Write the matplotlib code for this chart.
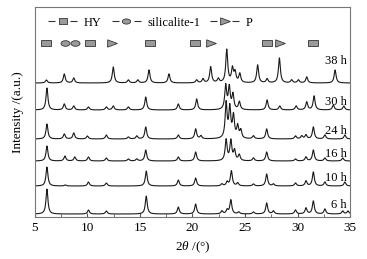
import numpy as np
import matplotlib
matplotlib.use("Agg")
import matplotlib.pyplot as plt
from matplotlib.lines import Line2D
from matplotlib.ticker import MultipleLocator

plt.rcParams['font.family'] = ['Liberation Serif', 'DejaVu Serif']
plt.rcParams['mathtext.fontset'] = 'custom'
plt.rcParams['mathtext.it'] = 'Liberation Serif:italic'
plt.rcParams['mathtext.rm'] = 'Liberation Serif'

# sample labels and vertical offsets (bottom to top)
samples = ["6 h", "10 h", "16 h", "24 h", "30 h", "38 h"]
offsets = [3, 31, 56, 78, 107, 134]
label_dy = [9, 8, 7, 8, 8, 22]

# peak positions (2theta) and heights for each sample
pos_6h = [6.15, 10.1, 11.8, 15.6, 18.65, 20.3, 22.8, 23.3, 23.65, 24.4, 25.8, 27.06, 27.7, 29.8, 30.8, 31.5, 32.6, 34.3, 34.8]
hgt_6h = [25, 4, 3, 18, 7, 10, 3, 4, 14, 2, 2, 11, 3, 4, 6, 13, 5, 3, 3]

pos_10h = [6.15, 7.9, 10.1, 11.8, 15.6, 18.65, 20.3, 22.8, 23.3, 23.7, 24.3, 25.8, 27.06, 27.7, 29.8, 30.8, 31.5, 32.6, 34.5]
hgt_10h = [19, 1, 4, 3, 15, 6, 8, 2, 4, 15, 3, 2, 12, 2, 3, 5, 14, 4, 4]

pos_16h = [6.15, 7.86, 8.8, 10.1, 11.8, 13.9, 14.7, 15.55, 18.65, 20.3, 23.2, 23.65, 24.0, 24.45, 25.8, 27.06, 29.8, 30.8, 31.5, 32.6, 34.3]
hgt_16h = [15, 5, 4, 4, 3, 2, 2, 11, 4, 9, 21, 20, 10, 6, 3, 9, 2, 4, 11, 3, 3]

pos_24h = [6.15, 7.8, 8.7, 10.0, 11.8, 13.9, 14.7, 15.55, 18.65, 20.3, 20.8, 23.2, 23.55, 23.9, 24.3, 24.6, 25.8, 27.06, 29.8, 30.4, 30.8, 31.5, 32.6, 34.5]
hgt_24h = [15, 5, 6, 3, 4, 2, 3, 12, 4, 10, 3, 35, 30, 22, 12, 8, 3, 10, 3, 3, 4, 12, 4, 4]

pos_30h = [6.15, 7.8, 8.7, 10.1, 11.8, 12.46, 13.9, 15.55, 18.65, 20.4, 23.16, 23.5, 23.85, 24.46, 27.1, 28.3, 29.86, 30.87, 31.57, 33.4, 34.4]
hgt_30h = [22, 6, 4, 3, 3, 4, 3, 13, 6, 11, 24, 22, 15, 8, 10, 4, 4, 8, 14, 5, 4]

pos_38h = [6.1, 7.8, 8.7, 12.46, 13.9, 14.8, 15.86, 17.76, 20.4, 21.0, 21.73, 22.46, 23.26, 23.8, 24.05, 24.5, 26.2, 27.1, 28.27, 29.44, 30.08, 30.87, 33.57]
hgt_38h = [3, 9, 5, 16, 3, 3, 13, 9, 3, 4, 16, 4, 33, 14, 10, 9, 18, 4, 25, 3, 3, 6, 13]

peaks = [(pos_6h, hgt_6h), (pos_10h, hgt_10h), (pos_16h, hgt_16h),
         (pos_24h, hgt_24h), (pos_30h, hgt_30h), (pos_38h, hgt_38h)]

# phase markers above the patterns
hy_pos = [6.1, 10.2, 16.0, 20.24, 27.06, 31.5]
sil_pos = [7.9, 8.8]
p_pos = [12.3, 21.8, 28.33]
marker_row = 174

# marker shapes
rect = [(-1, -0.7), (1, -0.7), (1, 0.7), (-1, 0.7), (-1, -0.7)]
t = np.linspace(0, 2 * np.pi, 40)
oval = list(zip(np.cos(t), 0.62 * np.sin(t)))
tri = [(-1, -0.75), (1, 0), (-1, 0.75), (-1, -0.75)]
mfc = "#9a9a9a"
mec = "#333333"

fig = plt.figure(figsize=(3.67, 2.59), dpi=100)
ax = fig.add_axes([0.095, 0.162, 0.859, 0.811])

x = np.linspace(5, 35, 2000)
w = 0.11
for (pp, hh), off, dy, lab in zip(peaks, offsets, label_dy, samples):
    y = np.full_like(x, off, dtype=float)
    for p, h in zip(pp, hh):
        y += h / (1 + ((x - p) / w) ** 2)
    ax.plot(x, y, color="#1a1a1a", lw=0.8)
    ax.text(34.7, off + dy, lab, ha="right", va="center", fontsize=9)

ax.plot(hy_pos, [marker_row] * len(hy_pos), ls="none", marker=rect, ms=6.5, mfc=mfc, mec=mec, mew=0.6)
ax.plot(sil_pos, [marker_row] * len(sil_pos), ls="none", marker=oval, ms=6.5, mfc=mfc, mec=mec, mew=0.6)
ax.plot(p_pos, [marker_row] * len(p_pos), ls="none", marker=tri, ms=7, mfc=mfc, mec=mec, mew=0.6)

# legend row
dash = (0, (6.3, 13.5))
handles = [Line2D([], [], color="#333333", lw=0.8, ls=dash, marker=rect, ms=6, mfc=mfc, mec=mec, mew=0.6),
           Line2D([], [], color="#333333", lw=0.8, ls=dash, marker=oval, ms=6, mfc=mfc, mec=mec, mew=0.6),
           Line2D([], [], color="#333333", lw=0.8, ls=dash, marker=tri, ms=7, mfc=mfc, mec=mec, mew=0.6)]
ax.legend(handles, ["HY", "silicalite-1", "P"], ncol=3, frameon=False, loc="upper left",
          bbox_to_anchor=(0.015, 0.995), fontsize=9, handlelength=2.35, handletextpad=0.5,
          columnspacing=0.8, borderaxespad=0.3)

ax.set_xlim(5, 35)
ax.set_ylim(0, 210)
ax.xaxis.set_major_locator(MultipleLocator(5))
ax.xaxis.set_minor_locator(MultipleLocator(2.5))
ax.tick_params(axis="x", which="both", direction="in", labelsize=9.5, color="#555555")
ax.tick_params(axis="x", which="major", length=3)
ax.tick_params(axis="x", which="minor", length=2)
ax.set_yticks([])
for s in ax.spines.values():
    s.set_color("#777777")
    s.set_linewidth(0.8)
ax.set_xlabel(r"2$\it{\theta}$ /(°)", fontsize=9.5, labelpad=4)
ax.set_ylabel("Intensity /(a.u.)", fontsize=9.5, labelpad=8)

fig.savefig("out.png", dpi=100)
